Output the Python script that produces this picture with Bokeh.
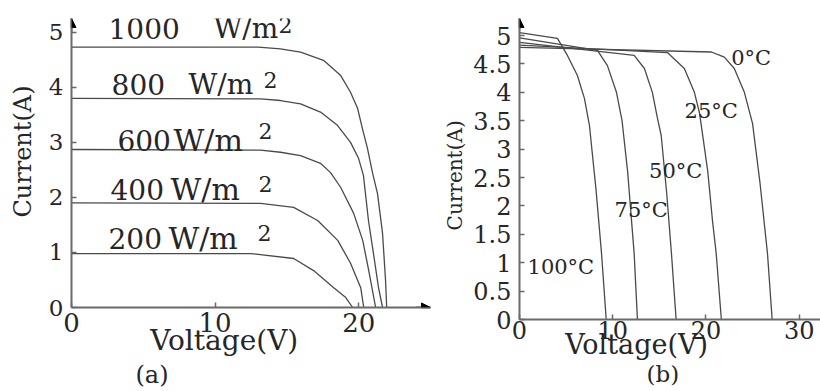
from bokeh.plotting import figure
from bokeh.layouts import row
from bokeh.models import (FixedTicker, CustomJSTickFormatter, Arrow, Title,
                          NormalHead, Range1d)
from bokeh.embed import file_html
from bokeh.resources import INLINE
from bokeh.core.properties import value

NB = "\u00a0"

# ---------------- data: panel (a) irradiance ----------------
irr_numbers = ["1000", "800", "600", "400", "200"]
irr_unit = "W/m"
irr_sup = "2"
a_V_1000 = [0, 13.0, 14.55, 15.95, 17.55, 18.73, 19.43, 19.92, 20.26, 20.61, 20.96, 21.31, 21.66, 21.87, 21.95]
a_I_1000 = [4.73, 4.73, 4.70, 4.64, 4.49, 4.22, 3.91, 3.62, 3.25, 2.89, 2.45, 2.07, 1.35, 0.49, 0]
a_V_800 = [0, 13.17, 14.55, 15.95, 17.34, 18.52, 19.43, 19.99, 20.33, 20.68, 21.03, 21.38, 21.66]
a_I_800 = [3.80, 3.79, 3.76, 3.70, 3.55, 3.31, 3.00, 2.71, 2.40, 1.58, 0.98, 0.36, 0]
a_V_600 = [0, 13.17, 14.55, 15.95, 17.34, 18.04, 18.75, 19.65, 20.28, 20.70, 21.18]
a_I_600 = [2.87, 2.86, 2.82, 2.76, 2.62, 2.45, 2.18, 1.71, 1.22, 0.67, 0]
a_V_400 = [0, 13.17, 15.47, 17.14, 18.54, 19.44, 20.14, 20.35]
a_I_400 = [1.90, 1.89, 1.82, 1.58, 1.22, 0.80, 0.36, 0]
a_V_200 = [0, 12.5, 15.47, 16.86, 18.26, 19.10, 19.58]
a_I_200 = [0.98, 0.98, 0.89, 0.67, 0.36, 0.18, 0]
a_x_ticks = [0, 10, 20]
a_y_ticks = [0, 1, 2, 3, 4, 5]

# ---------------- data: panel (b) temperature ----------------
temp_labels = ["0\u00b0C", "25\u00b0C", "50\u00b0C", "75\u00b0C", "100\u00b0C"]
b_V_0 = [0, 20.58, 21.97, 23.04, 24.12, 25.0, 25.8, 26.6, 27.1]
b_I_0 = [4.79, 4.71, 4.62, 4.42, 4.00, 3.45, 2.40, 1.16, 0]
b_V_25 = [0, 15.86, 17.68, 18.76, 19.3, 19.6, 20.2, 20.7, 21.1, 21.65]
b_I_25 = [4.83, 4.70, 4.42, 4.00, 3.64, 3.30, 2.60, 1.74, 1.16, 0]
b_V_50 = [0, 12.3, 13.4, 14.25, 14.8, 15.2, 15.8, 16.3, 16.8]
b_I_50 = [4.88, 4.65, 4.42, 4.00, 3.54, 3.24, 2.20, 1.16, 0]
b_V_75 = [0, 8.36, 9.43, 10.4, 11.0, 11.6, 12.3, 12.65]
b_I_75 = [4.96, 4.74, 4.47, 4.00, 3.50, 2.60, 1.16, 0]
b_V_100 = [0, 4.07, 5.14, 6.2, 6.97, 7.5, 8.2, 8.8, 9.3]
b_I_100 = [5.05, 4.95, 4.65, 4.30, 3.89, 3.42, 2.30, 1.16, 0]
b_x_ticks = [0, 10, 20, 30]
b_y_ticks = [0, 0.5, 1, 1.5, 2, 2.5, 3, 3.5, 4, 4.5, 5]

FONT = "DejaVu Serif"
TXT = "#262626"
CURVE = "#4a4a4a"
AXIS = "#6a6a6a"


def style(p, xt, yt, xfs, yfs, xstand):
    p.xgrid.visible = False
    p.ygrid.visible = False
    p.outline_line_color = None
    for ax in (p.xaxis[0], p.yaxis[0]):
        ax.axis_line_color = AXIS
        ax.axis_line_width = 2
        ax.major_tick_line_color = AXIS
        ax.major_tick_line_width = 1.5
        ax.major_tick_in = 5
        ax.major_tick_out = 0
        ax.minor_tick_line_color = None
        ax.major_label_text_font = FONT
        ax.major_label_text_color = TXT
        ax.axis_label_text_font = FONT
        ax.axis_label_text_font_style = "normal"
        ax.axis_label_text_color = TXT
    p.xaxis[0].ticker = FixedTicker(ticks=xt)
    p.yaxis[0].ticker = FixedTicker(ticks=yt)
    p.xaxis[0].major_label_text_font_size = xfs
    p.yaxis[0].major_label_text_font_size = yfs
    p.xaxis[0].major_label_standoff = xstand
    p.yaxis[0].major_label_standoff = 8


def panel_title(p, text, offset, standoff, size="24px"):
    p.add_layout(Title(text=text, align="left", offset=offset, standoff=standoff,
                       text_font=FONT, text_font_size=size,
                       text_font_style="normal", text_color=TXT), "below")


# ---------------- panel (a) ----------------
pa = figure(frame_width=359, frame_height=289, output_backend="svg",
            toolbar_location=None,
            x_range=Range1d(0, 25), y_range=Range1d(0, 5.25),
            min_border_left=71, min_border_right=10, min_border_top=18,
            min_border_bottom=84, background_fill_color="white",
            border_fill_color="white")
style(pa, a_x_ticks, a_y_ticks, "26px", "23px", 5)
pa.xaxis[0].axis_label = "Voltage(V)" + NB * 6
pa.xaxis[0].axis_label_text_font_size = "28px"
pa.xaxis[0].axis_label_standoff = -11
pa.yaxis[0].axis_label = NB * 3 + "Current(A)"
pa.yaxis[0].axis_label_text_font_size = "24px"
pa.yaxis[0].axis_label_standoff = 9

for V, I in [(a_V_1000, a_I_1000), (a_V_800, a_I_800), (a_V_600, a_I_600),
             (a_V_400, a_I_400), (a_V_200, a_I_200)]:
    pa.line(V, I, line_color=CURVE, line_width=1.3)

a_num_x = [2.58, 2.79, 3.20, 2.72, 2.58]
a_unit_x = [9.89, 8.15, 7.10, 6.89, 6.75]
a_lab_y = [5.07, 4.05, 3.03, 2.14, 1.25]
a_sup_x = [14.42, 13.37, 13.02, 13.02, 12.95]
a_sup_y = [5.14, 4.14, 3.20, 2.25, 1.36]
pa.text(x=a_num_x, y=a_lab_y, text=irr_numbers, text_font=value(FONT),
        text_font_size=value("28px"), text_color=TXT, text_baseline="middle")
pa.text(x=a_unit_x[:2], y=a_lab_y[:2], text=[irr_unit] * 2, text_font=value(FONT),
        text_font_size=value("28px"), text_color=TXT, text_baseline="middle")
pa.text(x=a_unit_x[2:], y=a_lab_y[2:], text=[irr_unit] * 3, text_font=value(FONT),
        text_font_size=value("30px"), text_color=TXT, text_baseline="middle")
pa.text(x=a_sup_x, y=a_sup_y, text=[irr_sup] * 5, text_font=value(FONT),
        text_font_size=value("22px"), text_color=TXT, text_baseline="middle")

pa.add_layout(Arrow(end=NormalHead(size=9, fill_color="black", line_color="black"),
                    x_start=0, y_start=5.0, x_end=0, y_end=5.25,
                    line_color=AXIS, line_width=2))
pa.add_layout(Arrow(end=NormalHead(size=9, fill_color="black", line_color="black"),
                    x_start=24, y_start=0, x_end=25, y_end=0,
                    line_color=AXIS, line_width=2))
panel_title(pa, "(a)", 64, -1)

# ---------------- panel (b) ----------------
pb = figure(frame_width=303, frame_height=301, output_backend="svg",
            toolbar_location=None,
            x_range=Range1d(0, 32.5), y_range=Range1d(0, 5.3),
            min_border_left=75, min_border_right=2, min_border_top=18,
            min_border_bottom=72, background_fill_color="white",
            border_fill_color="white")
style(pb, b_x_ticks, b_y_ticks, "24px", "24px", 1)
pb.yaxis[0].formatter = CustomJSTickFormatter(code="return String(tick);")
pb.xaxis[0].axis_label = "Voltage(V)" + NB * 8
pb.xaxis[0].axis_label_text_font_size = "27px"
pb.xaxis[0].axis_label_standoff = -13
pb.yaxis[0].axis_label = "Current(A)" + NB * 2
pb.yaxis[0].axis_label_text_font_size = "20px"
pb.yaxis[0].axis_label_standoff = 3

for V, I in [(b_V_0, b_I_0), (b_V_25, b_I_25), (b_V_50, b_I_50),
             (b_V_75, b_I_75), (b_V_100, b_I_100)]:
    pb.line(V, I, line_color=CURVE, line_width=1.3)

b_lab_x = [22.7, 17.7, 13.9, 10.2, 0.86]
b_lab_y = [4.61, 3.68, 2.62, 1.92, 0.92]
pb.text(x=b_lab_x, y=b_lab_y, text=temp_labels, text_font=value(FONT),
        text_font_size=value("21px"), text_color=TXT, text_baseline="middle")

pb.add_layout(Arrow(end=NormalHead(size=9, fill_color="black", line_color="black"),
                    x_start=0, y_start=5.1, x_end=0, y_end=5.3,
                    line_color=AXIS, line_width=2))
panel_title(pb, "(b)", 127, -8, "23px")

layout = row(pa, pb)
open("out.html", "w").write(file_html(layout, INLINE))
